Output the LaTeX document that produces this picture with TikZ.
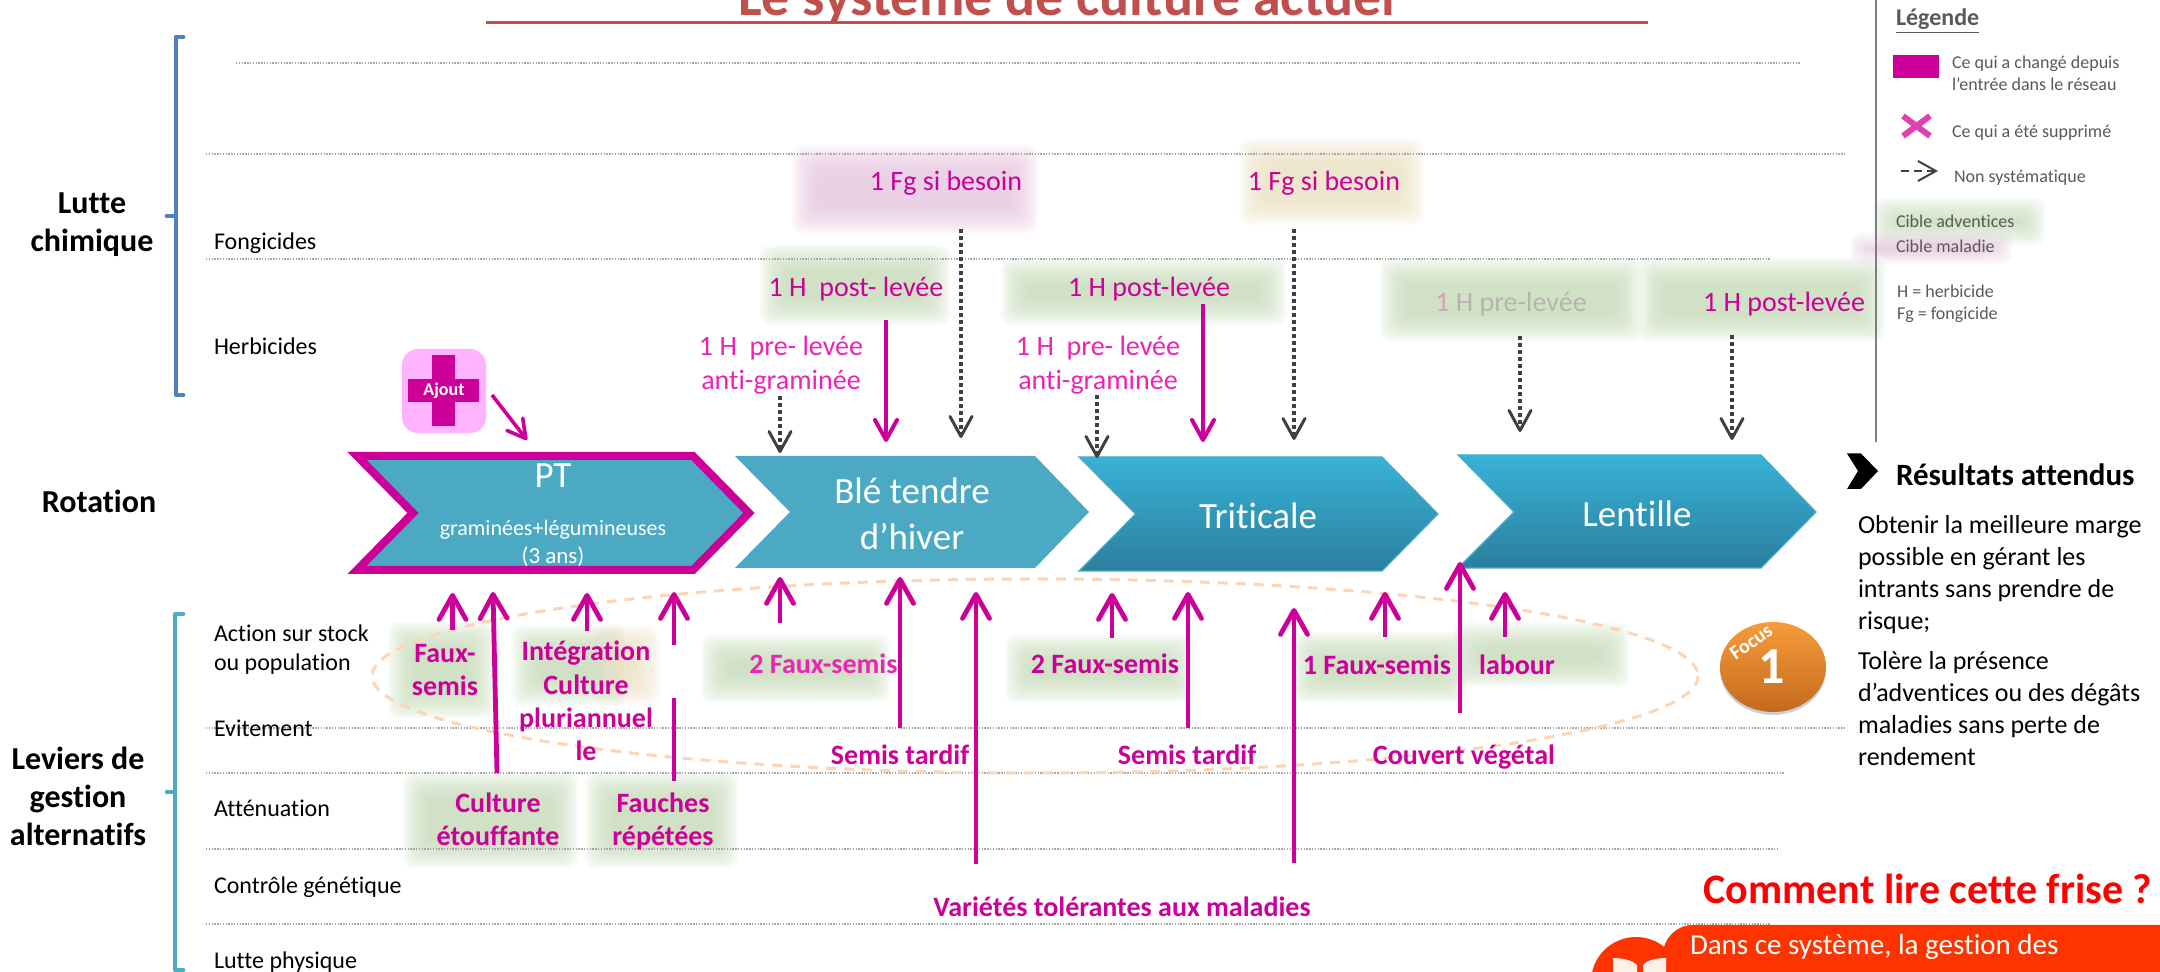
\documentclass[tikz,border=0pt]{standalone}
\usepackage{fontspec}
\setmainfont[RawFeature={-liga;-clig}]{Carlito}
\usetikzlibrary{arrows.meta}
\definecolor{mag}{HTML}{CC0099}
\definecolor{magl}{HTML}{EE22B4}
\definecolor{dark}{HTML}{404040}
\definecolor{gtxt}{HTML}{595959}
\definecolor{tealA}{HTML}{4BA9C4}
\definecolor{dot}{HTML}{A6A6A6}
\definecolor{pg}{HTML}{C4D9B6}
\definecolor{pp}{HTML}{E4C4DE}
\definecolor{pt}{HTML}{EBDFC0}
\definecolor{boxred}{HTML}{FF3300}
\definecolor{chevtop}{HTML}{38B2D6}
\definecolor{chevbot}{HTML}{2A7F9E}
\definecolor{peach}{HTML}{FBD5B5}
\definecolor{titlered}{HTML}{C0504D}
\definecolor{brA}{HTML}{4F81BD}
\definecolor{brB}{HTML}{4BACC6}
\definecolor{greyt}{HTML}{B9B3B0}
\definecolor{greyp}{HTML}{D8A0B8}
\definecolor{icon}{HTML}{FFB3FF}
\definecolor{vline}{HTML}{7F7F7F}
\definecolor{crossm}{HTML}{E040B0}
\definecolor{shad}{HTML}{B0BCCC}
\definecolor{ortop}{HTML}{F79B3A}
\definecolor{orbot}{HTML}{C46A1E}
\definecolor{bookw}{HTML}{FFF0EA}
\newcommand{\fs}[2]{\fontsize{#1}{#2}\selectfont}
\newcommand{\patch}[5]{\foreach \i in {0,...,10}{\fill[#1,fill opacity=.13,rounded corners=5pt] ({#2-5+2.6*\i},{#3-5+2.6*\i}) rectangle ({#4+5-2.6*\i},{#5+5-2.6*\i});}}
\newcommand{\conn}[6]{\coordinate (#2s) at (#3,#4); \coordinate (#2e) at (#5,#6); \draw[#1] (#2s) -- (#2e);}
\tikzset{
 x=.5pt,y=-.5pt,
 txt/.style={inner sep=0pt,outer sep=0pt,align=center,yshift=-1.5pt,execute at begin node=\strut,execute at end node=\strut},
 ltxt/.style={txt,align=left,anchor=west},
 dotline/.style={dot,line width=.6pt,dash pattern=on .7pt off .7pt},
 small/.style={ltxt,font=\fs{12}{14.5},text=black},
 head/.style={txt,font=\bfseries\fs{16}{19},text=black},
 legend/.style={ltxt,font=\fs{9}{11},text=gtxt},
 treat/.style={txt,font=\fs{14}{17},text=mag},
 treatl/.style={treat,text=magl},
 lever/.style={txt,font=\bfseries\fs{14}{16.7},text=mag},
 crop/.style={txt,font=\fs{18.5}{23},text=white},
 upbig/.style={mag,line width=2.4pt,-{Straight Barb[length=12pt,width=13.5pt,round]}},
 downmag/.style={mag,line width=2pt,-{Straight Barb[length=10pt,width=11pt,round]}},
 nosys/.style={dark,line width=1.7pt,dash pattern=on 2pt off 1.5pt,-{Straight Barb[length=10pt,width=11pt,round,line width=1.5pt]}},
 chevA/.style={fill=tealA},
 chevB/.style={top color=chevtop,bottom color=chevbot,draw=tealA,line width=.6pt},
}
\begin{document}
\begin{tikzpicture}
\clip (0,0) rectangle (2160,972);
\useasboundingbox (0,0) rectangle (2160,972);
% patches
\patch{pp}{797}{150}{1033}{228}
\patch{pt}{1244}{143}{1419}{220}
\patch{pg}{765}{250}{945}{320}
\patch{pg}{1006}{263}{1281}{320}
\patch{pg}{1385}{263}{1637}{336}
\patch{pg}{1643}{263}{1880}{336}
\patch{pg}{393}{627}{490}{713}
\patch{pg}{517}{630}{620}{700}
\patch{pt}{600}{630}{655}{700}
\patch{pg}{706}{640}{885}{697}
\patch{pg}{1010}{640}{1188}{697}
\patch{pg}{1297}{637}{1462}{698}
\patch{pg}{1458}{628}{1624}{682}
\patch{pg}{408}{777}{573}{863}
\patch{pg}{590}{777}{733}{863}
\patch{pg}{1878}{203}{2040}{240}
\patch{pp}{1855}{238}{2007}{259}
% dotted lines
\foreach \xa/\xb/\yy in {236/1800/63,206/1846/154,206/1770/259,206/1846/728,206/1785/773,206/1778/849,206/1770/924}
  \draw[dotline] (\xa,\yy) -- (\xb,\yy);
% ellipse
\draw[peach,line width=1.5pt,dash pattern=on 5pt off 4pt] (1035,676) ellipse [x radius=663,y radius=97];
% title
\node[txt,font=\bfseries\fs{28}{34},text=titlered] (title) at (1067,-1) {Le système de culture actuel};
\fill[titlered] (486,20.8) rectangle (1648,23.8);
% brackets
\draw[brA,line width=2.4pt,line cap=round,line join=round] (183,37) -- (176,37) -- (176,216) -- (167,216) -- (176,216) -- (176,395) -- (183,395);
\draw[brB,line width=2.4pt,line cap=round,line join=round] (183,614) -- (175,614) -- (175,792) -- (167,792) -- (175,792) -- (175,970) -- (183,970);
% heads
\node[head] (lc) at (92,225) {Lutte\\chimique};
\node[head] (rot) at (99,502) {Rotation};
\node[head] (lev) at (78,799) {Leviers de\\gestion\\alternatifs};
% small labels
\node[small] (fon) at (214,241) {Fongicides};
\node[small] (her) at (214,346) {Herbicides};
\node[small] (act) at (214,649) {Action sur stock\\ou population};
\node[small] (evi) at (214,728) {Evitement};
\node[small] (att) at (214,808) {Atténuation};
\node[small] (con) at (214,885) {Contrôle génétique};
\node[small] (phy) at (214,960) {Lutte physique};
% chevrons
\draw[mag,fill=tealA,line width=4pt,miter limit=10] (357,456) -- (693,456) -- (749,513) -- (693,570) -- (357,570) -- (413,513) -- cycle;
\fill[chevA] (735,456) -- (1035,456) -- (1089,512) -- (1035,568) -- (735,568) -- (790,512) -- cycle;
\path[chevB] (1079,457) -- (1382,457) -- (1438,514) -- (1382,571) -- (1079,571) -- (1135.5,514) -- cycle;
\path[chevB] (1458,455) -- (1761,455) -- (1816,512) -- (1761,568) -- (1458,568) -- (1514,512) -- cycle;
\node[crop] (ptn) at (553,475) {PT};
\node[txt,font=\fs{11}{14},text=white] (ptb) at (553,527) {graminées+légumineuses};
\node[txt,font=\fs{11.5}{14},text=white] (ptc) at (553,555) {(3 ans)};
\node[crop] (ble) at (912,518) {Blé tendre\\d’hiver};
\node[crop] (tri) at (1258,516) {Triticale};
\node[crop] (len) at (1637,514) {Lentille};
% treatments
\node[treat] (f1) at (946,181) {1 Fg si besoin};
\node[treat] (f2) at (1324,181) {1 Fg si besoin};
\node[treat] (h1) at (856,287) {1 H\ \ post- levée};
\node[treat] (h2) at (1149,287) {1 H post-levée};
\node[treatl] (p1) at (781,365) {1 H\ \ pre- levée\\anti-graminée};
\node[treatl] (p2) at (1098,365) {1 H\ \ pre- levée\\anti-graminée};
\node[treat,text=greyt] (p3) at (1511,302) {{\color{greyp}1} H pre-levée};
\node[treat] (h3) at (1784,302) {1 H post-levée};
% down arrows
\conn{nosys}{d1}{780}{396}{780}{453}
\conn{nosys}{d2}{961}{229}{961}{438}
\conn{nosys}{d3}{1097}{395}{1097}{458}
\conn{nosys}{d4}{1294}{229}{1294}{440}
\conn{nosys}{d5}{1520}{336}{1520}{432}
\conn{nosys}{d6}{1732}{335}{1732}{440}
\conn{downmag}{m1}{886}{320}{886}{442}
\conn{downmag}{m2}{1203}{304}{1203}{442}
% up arrows
\conn{upbig}{a}{452.5}{630}{452.5}{593}
\conn{upbig}{b}{497}{773}{493}{592}
\conn{upbig}{c}{587}{631}{587}{593}
\conn{upbig}{d}{674}{645}{674}{592}
\coordinate (ds2) at (674,698); \coordinate (de2) at (674,781);
\draw[mag,line width=2.4pt] (ds2) -- (de2);
\conn{upbig}{e}{780}{623}{780}{577}
\conn{upbig}{f}{900}{728}{900}{577}
\conn{upbig}{g}{976}{864}{976}{592}
\conn{upbig}{h}{1112}{638}{1112}{593}
\conn{upbig}{i}{1188}{728}{1188}{592}
\conn{upbig}{j}{1294}{863}{1294}{608}
\conn{upbig}{k}{1385}{637}{1385}{592}
\conn{upbig}{l}{1460}{713}{1460}{562}
\conn{upbig}{m}{1505}{637}{1505}{592}
% levers
\node[lever] (l1) at (445,672) {Faux-\\semis};
\node[lever] (l2) at (586,703) {Intégration\\Culture\\pluriannuel\\le};
\node[lever,text=magl] (l3) at (823.5,664) {2 Faux-semis};
\node[lever] (l4) at (1105,664) {2 Faux-semis};
\node[lever] (l5) at (1377,665) {1 Faux-semis};
\node[lever] (l6) at (1517,665) {labour};
\node[lever] (l7) at (900,755) {Semis tardif};
\node[lever] (l8) at (1187,755) {Semis tardif};
\node[lever] (l9) at (1464,755) {Couvert végétal};
\node[lever] (l10) at (498,821) {Culture\\étouffante};
\node[lever] (l11) at (663,821) {Fauches\\répétées};
\node[lever] (l12) at (1122,907) {Variétés tolérantes aux maladies};
% Ajout icon
\fill[icon,rounded corners=8pt] (402,349) rectangle (486,433);
\fill[mag] (432,355) rectangle (455,426);
\fill[mag] (408,379) rectangle (479,402);
\node[txt,font=\bfseries\fs{9}{11},text=white] (aj) at (444,388) {Ajout};
\conn{mag,line width=1.8pt,-{Straight Barb[length=9pt,width=10pt,round]}}{aja}{492}{395}{527}{440}
% legend
\draw[vline,line width=1pt] (1876,0) -- (1876,442);
\node[ltxt,font=\bfseries\fs{12}{14},text=gtxt] (leg) at (1896,17) {\underline{Légende}};
\fill[mag] (1893,55) rectangle (1939,78);
\node[legend] (lg1) at (1952,74) {Ce qui a changé depuis\\l’entrée dans le réseau};
\draw[crossm,line width=3pt] (1903,116) -- (1930,136) (1930,116) -- (1903,136);
\node[legend] (lg2) at (1952,130) {Ce qui a été supprimé};
\conn{dark,line width=1pt,dash pattern=on 4pt off 2.6pt,-{Straight Barb[length=9pt,width=10pt]}}{lga}{1901}{171}{1938}{171}
\node[legend] (lg3) at (1954,175) {Non systématique};
\node[legend] (lg4) at (1896,220) {Cible adventices};
\node[legend] (lg5) at (1896,245) {Cible maladie};
\node[legend] (lg6) at (1897,303) {H = herbicide\\Fg = fongicide};
% results
\fill[black] (1847,453.5) -- (1861,453.5) -- (1878,471) -- (1861,489) -- (1847,489) -- (1858,471) -- cycle;
\node[ltxt,font=\bfseries\fs{15.5}{18},text=black] (res) at (1896,475) {Résultats attendus};
\node[ltxt,font=\fs{13}{16},text=black] (r1) at (1858,574) {Obtenir la meilleure marge\\possible en gérant les\\intrants sans prendre de\\risque;};
\node[ltxt,font=\fs{13}{16},text=black] (r2) at (1858,710) {Tolère la présence\\d’adventices ou des dégâts\\maladies sans perte de\\rendement};
% focus
\fill[shad,opacity=.7] (1773,670) ellipse [x radius=53,y radius=45];
\shade[top color=ortop,bottom color=orbot] (1773,667) ellipse [x radius=53,y radius=45];
\node[txt,font=\bfseries\fs{26}{30},text=white] (fo1) at (1772,669) {1};
\node[txt,font=\bfseries\fs{10}{12},text=white,rotate=35] (fo2) at (1752,640) {Focus};
% comment
\node[txt,font=\bfseries\fs{21}{25},text=red] (cl) at (1928,891) {Comment lire cette frise ?};
\fill[boxred,rounded corners=15pt] (1663,1010) -- (1663,925) -- (2190,925) -- (2190,1010) -- cycle;
\fill[boxred] (1636,982) circle [x radius=45,y radius=45];
\fill[bookw] (1613,958) .. controls (1622,958) and (1632,960) .. (1637,965) -- (1637,980) -- (1613,980) -- cycle;
\fill[bookw] (1666,958) .. controls (1657,958) and (1647,960) .. (1643,965) -- (1643,980) -- (1666,980) -- cycle;
\node[ltxt,font=\fs{14.5}{17},text=white] (bx) at (1690,945) {Dans ce système, la gestion des};
\end{tikzpicture}
\end{document}
